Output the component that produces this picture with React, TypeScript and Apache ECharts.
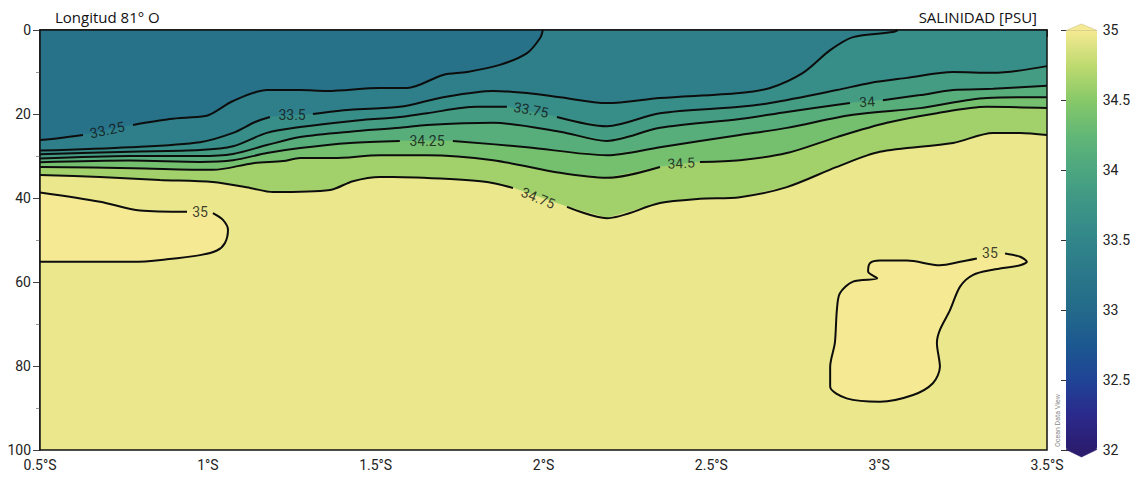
import React, { useEffect, useRef } from "react";
import * as echarts from "echarts";

// ---- axes ----
const LAT_MIN = 0.5;
const LAT_MAX = 3.5;
const DEPTH_MIN = 0;
const DEPTH_MAX = 100;
const SAL_MIN = 32;
const SAL_MAX = 35;

// ---- colour scale (salinity, PSU), 32 → 35 in 0.25 steps ----
const paletteColors = [
  "#2b1c6e", "#2b2a8c", "#1f4496", "#1c5890", "#236a8a", "#2a7789", "#32868a",
  "#3d9586", "#4ca680", "#62b776", "#88c968", "#bfda70", "#f5ea93",
];

// ---- contour levels and the salinity representative of each band ----
const levels = [33.25, 33.5, 33.75, 34, 34.25, 34.5, 34.75, 35, 35];
const surfaceValue = 33.15;
const bandValues = [33.38, 33.62, 33.87, 34.12, 34.37, 34.62, 34.95, 35.0, 35.0];

// ---- contour lines: [latitude °S, depth m], split where the label sits ----
const c3325 = [
  [[0.5, 26.2], [0.56, 25.7], [0.628, 25.0]],
  [[0.777, 22.6], [0.887, 21.2], [0.992, 20.5], [1.021, 19.5], [1.075, 16.9], [1.176, 14.3], [1.275, 14.3],
   [1.355, 14.5], [1.513, 13.8], [1.593, 13.8], [1.701, 10.7], [1.772, 10.0], [1.87, 8.3], [1.951, 5.5],
   [1.99, 1.9], [1.998, 0]],
];
const c335 = [
  [[0.5, 28.7], [0.768, 27.9], [0.977, 26.7], [1.075, 24.5], [1.141, 21.9], [1.185, 20.7]],
  [[1.313, 20.0], [1.424, 19.0], [1.572, 18.3], [1.701, 16.0], [1.85, 14.5], [1.951, 15.0], [2.049, 16.0],
   [2.189, 17.4], [2.347, 16.2], [2.585, 15.0], [2.675, 13.8], [2.773, 10.2], [2.854, 4.8], [2.922, 1.7],
   [3.041, 0.5], [3.056, 0]],
];
const c3375 = [
  [[0.5, 29.6], [0.768, 29.0], [0.977, 28.6], [1.075, 27.7], [1.176, 24.5], [1.275, 23.1], [1.424, 21.7],
   [1.572, 20.7], [1.653, 19.8], [1.802, 18.3], [1.891, 18.3]],
  [[2.04, 20.7], [2.189, 22.9], [2.347, 19.8], [2.585, 18.3], [2.675, 17.4], [2.874, 14.3], [2.973, 12.6],
   [3.083, 11.4], [3.22, 10.0], [3.339, 10.2], [3.5, 8.6]],
];
const c34 = [
  [[0.5, 30.6], [0.768, 30.0], [0.977, 30.0], [1.075, 29.5], [1.176, 27.4], [1.275, 25.5], [1.424, 24.2],
   [1.572, 23.3], [1.653, 22.6], [1.85, 22.1], [2.049, 24.2], [2.189, 26.4], [2.347, 23.3], [2.585, 21.2],
   [2.725, 19.5], [2.913, 17.4]],
  [[3.011, 16.7], [3.122, 15.5], [3.22, 14.3], [3.339, 14.0], [3.5, 13.3]],
];
const c3425 = [
  [[0.5, 31.5], [0.768, 31.1], [0.977, 31.4], [1.075, 31.0], [1.176, 29.3], [1.275, 28.1], [1.424, 26.9],
   [1.572, 26.4]],
  [[1.73, 26.4], [1.951, 27.9], [2.189, 29.8], [2.347, 27.9], [2.585, 25.0], [2.725, 23.3], [2.922, 20.2],
   [3.122, 18.6], [3.321, 16.2], [3.5, 16.0]],
];
const c345 = [
  [[0.5, 32.6], [0.777, 32.9], [1.015, 33.3], [1.135, 31.7], [1.224, 31.2], [1.275, 30.5], [1.373, 30.5],
   [1.513, 29.8], [1.653, 29.8], [1.85, 31.0], [2.049, 34.0], [2.189, 35.2], [2.347, 32.6]],
  [[2.466, 31.4], [2.585, 31.0], [2.725, 29.3], [2.874, 25.5], [3.023, 22.1], [3.172, 19.8], [3.321, 18.3],
   [3.5, 18.6]],
];
const c3475 = [
  [[0.5, 34.5], [0.679, 35.0], [0.857, 35.7], [1.015, 36.2], [1.126, 37.6], [1.194, 38.6], [1.364, 38.1],
   [1.432, 36.0], [1.513, 35.0], [1.552, 35.0], [1.721, 35.5], [1.832, 36.2], [1.909, 37.6]],
  [[2.07, 42.1], [2.189, 44.8], [2.347, 41.2], [2.466, 40.2], [2.585, 39.8], [2.725, 37.4], [2.874, 32.6],
   [3.002, 29.0], [3.22, 26.9], [3.339, 24.5], [3.42, 24.5], [3.5, 25.0]],
];
const c35west = [
  [[0.5, 38.7], [0.679, 40.9], [0.798, 43.0], [0.938, 43.3]],
  [[1.015, 43.6], [1.045, 45.2], [1.06, 47.6], [1.051, 50.7], [1.027, 52.5], [0.977, 53.6], [0.878, 54.6],
   [0.777, 55.2], [0.628, 55.2], [0.5, 55.2]],
];
const c35east = [
  [[3.375, 53.2], [3.42, 54.0], [3.44, 55.2], [3.42, 56.0], [3.339, 57.1], [3.28, 58.3], [3.241, 61.1],
   [3.211, 66.7], [3.181, 71.4], [3.172, 74.5], [3.181, 80.2], [3.16, 84.1], [3.101, 86.9], [3.002, 88.5],
   [2.903, 87.7], [2.854, 84.9], [2.854, 80.2], [2.868, 74.5], [2.874, 66.7], [2.883, 62.7], [2.922, 59.9],
   [2.994, 59.1], [2.967, 57.5], [2.973, 55.5], [3.002, 54.9], [3.083, 54.9], [3.181, 56.0], [3.241, 55.2],
   [3.291, 54.4]],
];
const contours = [c3325, c335, c3375, c34, c3425, c345, c3475, c35west, c35east];

// ---- contour labels ----
const labelText = ["33.25", "33.5", "33.75", "34", "34.25", "34.5", "34.75", "35", "35"];
const labelLat = [0.70, 1.251, 1.963, 2.964, 1.653, 2.41, 1.984, 0.977, 3.33];
const labelDepth = [23.8, 20.2, 19.0, 17.1, 26.4, 31.7, 40.0, 43.3, 53.1];
const labelRotate = [12, 0, -10, 4, 0, 3, -22, 0, 0];

// ---- colour bar tick labels ----
const colorbarTicks = [32, 32.5, 33, 33.5, 34, 34.5, 35];

const FONT = "Roboto, 'Noto Sans', sans-serif";
const TITLE_FONT = "'Open Sans', Roboto, sans-serif";

function regionPoints(idx: number): number[][] {
  if (idx < 0) {
    return [[LAT_MIN, DEPTH_MIN], [LAT_MAX, DEPTH_MIN], [LAT_MAX, DEPTH_MAX], [LAT_MIN, DEPTH_MAX]];
  }
  const pts: number[][] = ([] as number[][]).concat(...contours[idx]);
  const last = pts[pts.length - 1];
  if (last[1] === DEPTH_MIN) {
    pts.push([LAT_MAX, DEPTH_MIN], [LAT_MAX, DEPTH_MAX], [LAT_MIN, DEPTH_MAX]);
  } else if (last[0] === LAT_MAX) {
    pts.push([LAT_MAX, DEPTH_MAX], [LAT_MIN, DEPTH_MAX]);
  }
  return pts;
}

export default function App() {
  const ref = useRef<HTMLDivElement>(null);

  useEffect(() => {
    document.body.style.margin = "0";
    if (!ref.current) return;
    const chart = echarts.init(ref.current, null, { renderer: "svg" });

    const fillData = [[-1, surfaceValue], ...bandValues.map((v, i) => [i, v])];

    const lineSeries: any[] = [];
    contours.forEach((c, ci) => {
      c.forEach((seg) => {
        lineSeries.push({
          type: "line",
          name: "c" + levels[ci],
          xAxisIndex: 0,
          yAxisIndex: 0,
          data: seg,
          symbol: "none",
          smooth: 0.3,
          silent: true,
          lineStyle: { color: "#0d0d0d", width: 2 },
          z: 5,
        });
      });
    });

    const option: any = {
      animation: false,
      textStyle: { fontFamily: FONT },
      grid: [
        { left: 40, right: 86, top: 30, bottom: 29, show: true, borderColor: "#111", borderWidth: 1.5, backgroundColor: "transparent", z: 10 },
        { left: 1066, top: 30, width: 31, height: 420, show: false },
      ],
      xAxis: [
        {
          type: "value", gridIndex: 0, min: LAT_MIN, max: LAT_MAX, interval: 0.5,
          axisLine: { show: true, lineStyle: { color: "#111", width: 1.5 } },
          axisTick: { show: true, length: 7, lineStyle: { color: "#444" } },
          minorTick: { show: true, splitNumber: 2, length: 4, lineStyle: { color: "#999" } },
          splitLine: { show: false },
          axisLabel: { formatter: (v: number) => `${v}°S`, fontSize: 14, color: "#222", margin: 8, fontFamily: FONT },
        },
        { type: "value", gridIndex: 1, min: 0, max: 1, show: false },
      ],
      yAxis: [
        {
          type: "value", gridIndex: 0, inverse: true, min: DEPTH_MIN, max: DEPTH_MAX, interval: 20,
          axisLine: { show: true, lineStyle: { color: "#111", width: 1.5 } },
          axisTick: { show: true, length: 7, lineStyle: { color: "#444" } },
          minorTick: { show: true, splitNumber: 2, length: 4, lineStyle: { color: "#999" } },
          splitLine: { show: false },
          axisLabel: { fontSize: 14, color: "#222", margin: 9, fontFamily: FONT },
        },
        {
          type: "value", gridIndex: 1, min: SAL_MIN, max: SAL_MAX, interval: 0.5, position: "right",
          axisLine: { show: false },
          axisTick: { show: true, inside: true, length: 5, lineStyle: { color: "#333" } },
          splitLine: { show: false },
          axisLabel: {
            fontSize: 14, color: "#222", margin: 6, fontFamily: FONT,
            formatter: (v: number) => (colorbarTicks.indexOf(v) >= 0 ? String(v) : ""),
          },
        },
        {
          type: "value", gridIndex: 1, min: SAL_MIN, max: SAL_MAX, interval: 0.5, position: "left",
          axisLine: { show: false },
          axisTick: { show: true, inside: true, length: 5, lineStyle: { color: "#333" } },
          splitLine: { show: false },
          axisLabel: { show: false },
        },
      ],
      visualMap: {
        type: "continuous",
        min: SAL_MIN,
        max: SAL_MAX,
        seriesIndex: 0,
        dimension: 1,
        calculable: false,
        hoverLink: false,
        left: 1066,
        top: 30,
        itemWidth: 31,
        itemHeight: 420,
        padding: 0,
        inRange: { color: paletteColors },
        z: 1,
      },
      graphic: [
        { type: "text", left: 55, top: 9, style: { text: "Longitud 81° O", fontSize: 15, fill: "#111", fontFamily: TITLE_FONT } },
        { type: "text", right: 96, top: 9, style: { text: "SALINIDAD [PSU]", fontSize: 15, fill: "#111", fontFamily: TITLE_FONT } },
        { type: "polygon", shape: { points: [[1066, 30.5], [1081.5, 24], [1097, 30.5]] }, style: { fill: "#f5ea93", stroke: "#c9c08a", lineWidth: 0.6 }, z: 20 },
        { type: "polygon", shape: { points: [[1066, 449.5], [1081.5, 457], [1097, 449.5]] }, style: { fill: "#2b1c6e", stroke: "#2b1c6e", lineWidth: 0.6 }, z: 20 },
        { type: "text", x: 1058, y: 447, rotation: Math.PI / 2, style: { text: "Ocean Data View", fontSize: 7, fill: "#888", fontFamily: FONT, textAlign: "left", textVerticalAlign: "middle" }, z: 20 },
      ],
      series: [
        {
          type: "custom",
          coordinateSystem: "cartesian2d",
          xAxisIndex: 0,
          yAxisIndex: 0,
          silent: true,
          data: fillData,
          z: 1,
          clip: true,
          renderItem: (params: any, api: any) => {
            const idx = api.value(0);
            const pts = regionPoints(idx).map((p) => api.coord(p));
            const col = api.visual("color");
            return {
              type: "polygon",
              shape: { points: pts },
              style: { fill: col, stroke: col, lineWidth: 0.6 },
            };
          },
        },
        ...lineSeries,
        {
          type: "scatter",
          xAxisIndex: 0,
          yAxisIndex: 0,
          symbolSize: 0,
          silent: true,
          z: 6,
          data: labelText.map((t, i) => ({
            value: [labelLat[i], labelDepth[i]],
            label: { formatter: t, rotate: labelRotate[i] },
          })),
          label: { show: true, position: "inside", fontSize: 14, color: "#111", fontFamily: FONT },
        },
      ],
    };

    chart.setOption(option);
    return () => chart.dispose();
  }, []);

  return <div ref={ref} style={{ width: 1133, height: 479 }} />;
}
